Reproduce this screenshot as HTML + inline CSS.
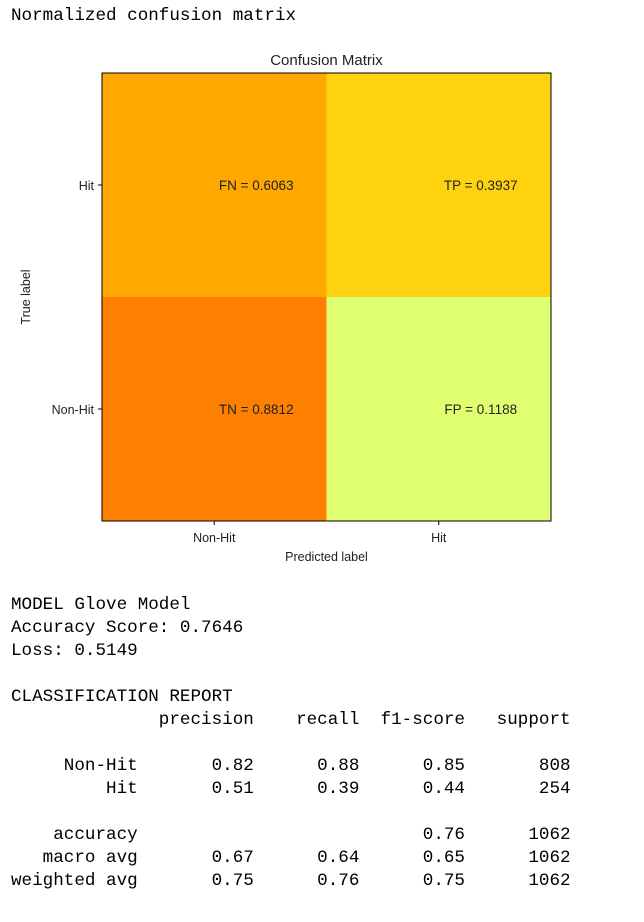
<!DOCTYPE html>
<html><head><meta charset="utf-8"><style>
body{margin:0;background:#fff;width:644px;height:922px;overflow:hidden;position:relative}
pre{margin:0;font-family:"Liberation Mono",monospace;font-size:17.6px;line-height:23px;color:#000;position:absolute;left:11px}
svg text{font-family:"Liberation Sans",sans-serif;fill:#222}
</style></head><body>
<pre style="top:5px">Normalized confusion matrix</pre>
<svg id="cm" width="644" height="580" style="position:absolute;left:0;top:0"></svg>
<pre style="top:594px">MODEL Glove Model
Accuracy Score: 0.7646
Loss: 0.5149

CLASSIFICATION REPORT
              precision    recall  f1-score   support

     Non-Hit       0.82      0.88      0.85       808
         Hit       0.51      0.39      0.44       254

    accuracy                           0.76      1062
   macro avg       0.67      0.64      0.65      1062
weighted avg       0.75      0.76      0.75      1062</pre>
<script>
const rowLabels=["Hit","Non-Hit"];
const colLabels=["Non-Hit","Hit"];
const cellNames=[["FN","TP"],["TN","FP"]];
const cellValues=[[0.6063,0.3937],[0.8812,0.1188]];
const NS="http://www.w3.org/2000/svg";
const svg=document.getElementById('cm');
const X0=102,Y0=73,W=449,H=448;
const cw=W/colLabels.length,ch=H/rowLabels.length;
function xs(i){return X0+i*cw;}
function ys(j){return Y0+j*ch;}
function color(v){
  const stops=[[0,[228,255,122]],[0.12,[224,255,112]],[0.39,[255,211,15]],[0.6,[255,170,0]],[0.88,[255,128,0]],[1,[252,127,0]]];
  for(let k=0;k<stops.length-1;k++){const[a,ca]=stops[k],[b,cb]=stops[k+1];
    if(v<=b){const t=(v-a)/(b-a);return 'rgb('+ca.map((c,i)=>Math.round(c+(cb[i]-c)*t)).join(',')+')';}}
  return 'rgb(252,127,0)';
}
function mk(tag,attrs,txt){const e=document.createElementNS(NS,tag);for(const k in attrs)e.setAttribute(k,attrs[k]);if(txt!=null)e.textContent=txt;svg.appendChild(e);return e;}
for(let r=0;r<rowLabels.length;r++)for(let c=0;c<colLabels.length;c++){
  const rect=mk('rect',{x:xs(c),y:ys(r),width:cw,height:ch,fill:color(cellValues[r][c])});
  
  
  const t=mk('text',{x:xs(c)+cw/2+42,y:ys(r)+ch/2+5,'text-anchor':'middle','font-size':'13.5'},cellNames[r][c]+' = '+cellValues[r][c].toFixed(4));
  
  
}
const frame=mk('rect',{x:X0,y:Y0,width:W,height:H,fill:'none',stroke:'#000','stroke-width':1});


rowLabels.forEach((l,j)=>{const y=ys(j)+ch/2;
  mk('line',{x1:X0-4,x2:X0,y1:y,y2:y,stroke:'#000'});
  const t=mk('text',{x:X0-8,y:y+5,'text-anchor':'end','font-size':'12.5'},l);
  
  });
colLabels.forEach((l,i)=>{const x=xs(i)+cw/2;
  mk('line',{x1:x,x2:x,y1:Y0+H,y2:Y0+H+4,stroke:'#000'});
  const t=mk('text',{x:x,y:Y0+H+21,'text-anchor':'middle','font-size':'12.5'},l);
  
  });
const ti=mk('text',{x:X0+W/2,y:65,'text-anchor':'middle','font-size':'15'},'Confusion Matrix');


const xt=mk('text',{x:X0+W/2,y:561,'text-anchor':'middle','font-size':'12.5'},'Predicted label');


const yt=mk('text',{x:0,y:0,'text-anchor':'middle','font-size':'12.5','transform':'translate(30,'+(Y0+H/2)+') rotate(-90)'},'True label');


</script>
</body></html>
